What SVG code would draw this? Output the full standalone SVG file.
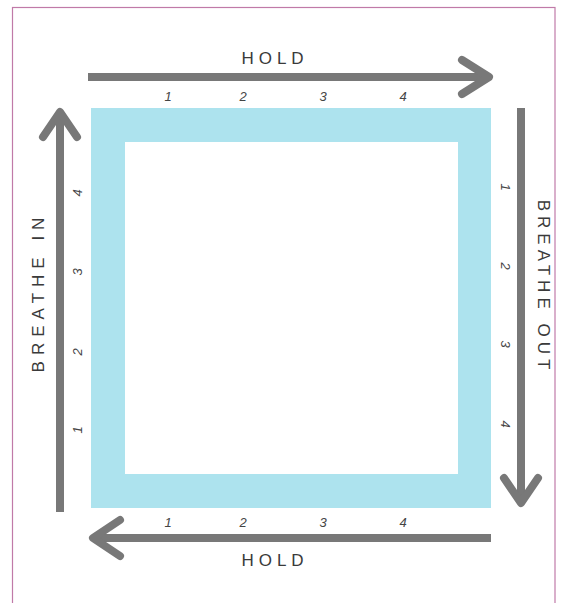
<svg xmlns="http://www.w3.org/2000/svg" width="566" height="603" viewBox="0 0 566 603">
<style>
.lbl{font-family:"Liberation Sans",Arial,sans-serif;font-size:17px;fill:#3a3a3a;letter-spacing:5px;text-anchor:middle}
.num{font-family:"Liberation Sans",Arial,sans-serif;font-size:13px;font-style:italic;fill:#444;text-anchor:middle}
.arr{fill:none;stroke:#787878;stroke-width:8;stroke-linecap:round;stroke-linejoin:round}
.shaft{fill:none;stroke:#787878;stroke-width:8}
</style>
<rect x="0" y="0" width="566" height="603" fill="#ffffff"/>
<rect x="12.5" y="7.5" width="542.5" height="610" fill="none" stroke="#c07aa8" stroke-width="1.2"/>
<g id="square">
<path d="M91 108H491V508H91Z M125 142V474H458V142Z" fill="#ade3ee" fill-rule="evenodd"/>
</g>
<g id="connectors">
<line class="shaft" x1="88" y1="77" x2="488" y2="77"/>
<polyline class="arr" points="462,60 489,77 462,94"/>
<line class="shaft" x1="60" y1="512" x2="60" y2="112"/>
<polyline class="arr" points="43,137 60,112 77,137"/>
<line class="shaft" x1="521" y1="108" x2="521" y2="503"/>
<polyline class="arr" points="504,478 521,503 538,478"/>
<line class="shaft" x1="491" y1="538" x2="93" y2="538"/>
<polyline class="arr" points="120,520 93,538 120,556"/>
</g>
<g id="top-label">
<text class="lbl" x="275" y="64">HOLD</text>
<text class="num" x="168" y="101">1</text>
<text class="num" x="243" y="101">2</text>
<text class="num" x="323" y="101">3</text>
<text class="num" x="403" y="101">4</text>
</g>
<g id="bottom-label">
<text class="lbl" x="275" y="566">HOLD</text>
<text class="num" x="168" y="527">1</text>
<text class="num" x="243" y="527">2</text>
<text class="num" x="323" y="527">3</text>
<text class="num" x="403" y="527">4</text>
</g>
<g id="left-label">
<text class="lbl" transform="translate(44,292) rotate(-90)" style="letter-spacing:6px">BREATHE IN</text>
<text class="num" transform="translate(82,193) rotate(-90)">4</text>
<text class="num" transform="translate(82,272) rotate(-90)">3</text>
<text class="num" transform="translate(82,352) rotate(-90)">2</text>
<text class="num" transform="translate(82,430) rotate(-90)">1</text>
</g>
<g id="right-label">
<text class="lbl" transform="translate(538,287) rotate(90)">BREATHE OUT</text>
<text class="num" transform="translate(501,187) rotate(90)">1</text>
<text class="num" transform="translate(501,266) rotate(90)">2</text>
<text class="num" transform="translate(501,344) rotate(90)">3</text>
<text class="num" transform="translate(501,424) rotate(90)">4</text>
</g>
</svg>
